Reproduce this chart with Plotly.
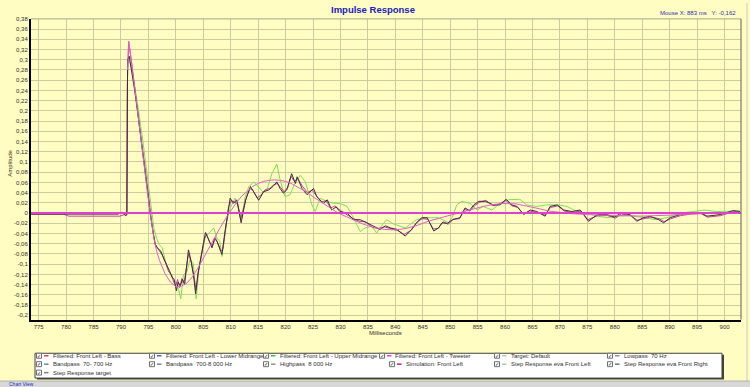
import plotly.graph_objects as go

# ---------------- data ----------------
dark_x = [773.6, 780.0, 785.0, 789.5, 790.2, 790.8, 791.1, 791.2, 791.5, 792.0, 792.5, 793.0, 793.5, 794.0,
          794.5, 795.0, 795.3, 795.7, 796.2, 796.6, 796.9, 797.3, 797.8, 798.3, 798.8, 799.3, 799.7, 800.1,
          800.4, 800.8, 801.2, 801.6, 802.0, 802.3, 802.7, 803.2, 803.6, 804.0, 804.6, 805.0, 805.4, 805.9,
          806.6, 807.0, 807.5, 808.0, 808.4, 808.9, 809.4, 809.9, 810.5, 811.1, 811.9, 812.3, 812.7, 813.6,
          814.2, 815.1, 816.0, 816.9, 817.7, 818.4, 819.0, 819.6, 820.2, 821.1, 821.8, 822.1, 823.0, 823.9,
          825.1, 825.7, 826.9, 827.6, 828.4, 829.2, 829.9, 831.2, 832.4, 833.6, 834.8, 836.0, 837.2, 838.2,
          839.1, 840.3, 841.8, 843.0, 843.8, 844.8, 845.8, 847.0, 847.9, 848.5, 849.5, 850.4, 851.8, 852.7,
          853.5, 854.3, 855.2, 856.4, 857.9, 859.1, 860.2, 861.2, 862.2, 863.4, 864.6, 865.8, 867.3, 868.2,
          869.5, 870.7, 872.2, 873.7, 875.2, 876.8, 878.6, 880.0, 881.1, 882.8, 884.0, 885.2, 886.4, 888.0,
          888.9, 890.1, 891.9, 893.7, 895.6, 896.8, 898.0, 899.2, 900.4, 901.6, 902.8]
dark_y = [-0.002, -0.002, -0.002, -0.002, 0.002, -0.005, -0.003, 0.300, 0.307, 0.275, 0.240, 0.200, 0.160, 0.120,
          0.080, 0.030, 0.000, -0.030, -0.060, -0.068, -0.072, -0.075, -0.090, -0.100, -0.112, -0.125, -0.130, -0.152,
          -0.135, -0.142, -0.130, -0.140, -0.100, -0.072, -0.090, -0.120, -0.158, -0.120, -0.085, -0.060, -0.038, -0.050,
          -0.068, -0.050, -0.055, -0.070, -0.081, -0.040, 0.000, 0.029, 0.019, 0.026, -0.019, 0.005, 0.025, 0.052,
          0.042, 0.025, 0.042, 0.045, 0.052, 0.061, 0.048, 0.039, 0.045, 0.077, 0.058, 0.071, 0.048, 0.036,
          0.048, 0.032, 0.019, 0.026, 0.006, 0.012, 0.003, 0.000, -0.013, -0.013, -0.019, -0.026, -0.032, -0.025,
          -0.029, -0.032, -0.045, -0.032, -0.020, -0.009, -0.009, -0.035, -0.029, -0.019, -0.020, -0.013, -0.009, 0.010,
          0.005, 0.016, 0.023, 0.023, 0.016, 0.016, 0.027, 0.016, 0.013, -0.003, 0.006, 0.003, -0.006, 0.013,
          0.016, 0.006, 0.003, 0.006, -0.016, -0.003, -0.003, -0.008, 0.000, -0.003, -0.016, -0.009, -0.006, -0.013,
          -0.019, -0.009, -0.003, 0.000, 0.001, -0.006, -0.005, -0.003, 0.001, 0.005, 0.003]

mag_x = [773.6, 779.5, 780.5, 789.8, 790.6, 791.0, 791.15, 791.4, 791.8, 792.3, 792.8, 793.3, 793.8, 794.3,
         794.8, 795.3, 795.8, 796.3, 796.8, 797.2, 797.7, 798.2, 798.7, 799.2, 799.6, 800.0, 800.3, 800.7,
         801.1, 801.5, 801.9, 802.3, 802.8, 803.3, 803.7, 804.1, 804.7, 805.2, 805.6, 806.2, 806.7, 807.2,
         807.7, 808.2, 808.6, 809.1, 809.6, 810.1, 810.7, 811.3, 811.8, 812.4, 812.9, 813.5, 814.0, 814.8,
         815.5, 816.3, 817.1, 817.8, 818.5, 819.1, 819.7, 820.4, 821.0, 821.6, 822.2, 823.1, 824.0, 824.8,
         825.6, 826.5, 827.4, 828.2, 829.0, 830.0, 831.0, 832.2, 833.4, 834.6, 835.8, 837.0, 838.0, 839.2,
         840.4, 841.6, 842.8, 843.9, 844.9, 845.9, 846.9, 847.8, 848.7, 849.6, 850.6, 851.7, 852.6, 853.6,
         854.4, 855.3, 856.5, 857.8, 859.0, 860.1, 861.3, 862.3, 863.3, 864.5, 865.9, 867.2, 868.3, 869.6,
         870.8, 872.3, 873.8, 875.1, 876.9, 878.7, 880.1, 881.2, 882.9, 884.1, 885.3, 886.5, 888.1, 889.0,
         890.2, 892.0, 893.8, 895.7, 896.9, 898.1, 899.3, 900.5, 901.7, 902.9]
mag_y = [-0.002, -0.002, -0.006, -0.006, -0.003, -0.004, 0.250, 0.336, 0.305, 0.260, 0.215, 0.175, 0.135, 0.095,
         0.050, 0.005, -0.035, -0.062, -0.070, -0.078, -0.085, -0.098, -0.115, -0.120, -0.135, -0.142, -0.130, -0.146,
         -0.128, -0.136, -0.108, -0.080, -0.095, -0.130, -0.150, -0.115, -0.080, -0.050, -0.042, -0.058, -0.064, -0.048,
         -0.060, -0.074, -0.070, -0.025, 0.012, 0.024, 0.022, 0.018, -0.012, 0.012, 0.032, 0.048, 0.045, 0.030,
         0.035, 0.046, 0.048, 0.055, 0.058, 0.050, 0.042, 0.050, 0.072, 0.062, 0.068, 0.052, 0.040, 0.045,
         0.035, 0.022, 0.024, 0.010, 0.014, 0.005, -0.002, -0.010, -0.016, -0.017, -0.028, -0.030, -0.027, -0.031,
         -0.034, -0.042, -0.034, -0.018, -0.011, -0.012, -0.031, -0.030, -0.017, -0.022, -0.012, -0.011, 0.007, 0.004,
         0.014, 0.021, 0.025, 0.014, 0.018, 0.025, 0.014, 0.011, -0.001, 0.004, 0.001, -0.004, 0.011, 0.014,
         0.004, 0.001, 0.004, -0.013, -0.005, -0.005, -0.010, -0.002, -0.005, -0.014, -0.011, -0.008, -0.011, -0.017,
         -0.011, -0.005, -0.002, -0.001, -0.008, -0.007, -0.005, -0.001, 0.003, 0.001]

green_x = [773.6, 790.5, 791.1, 791.2, 791.5, 792.0, 793.0, 794.0, 795.0, 795.5, 796.0, 796.5, 797.0, 797.5,
           798.0, 798.5, 799.0, 799.5, 800.0, 800.4, 800.9, 801.4, 802.0, 802.6, 803.2, 803.7, 804.2, 804.8,
           805.4, 806.0, 806.9, 807.5, 808.0, 808.4, 809.2, 809.9, 810.8, 811.4, 812.0, 812.6, 813.3, 814.2,
           815.4, 816.0, 816.6, 817.5, 818.4, 819.0, 819.9, 820.8, 821.8, 822.7, 823.6, 824.2, 824.8, 825.4,
           826.3, 827.5, 828.7, 829.9, 831.2, 832.4, 833.6, 834.5, 835.7, 836.6, 837.2, 838.4, 839.6, 841.8,
           843.9, 845.8, 847.9, 849.7, 850.5, 851.2, 852.1, 853.6, 854.9, 856.0, 857.6, 859.1, 860.6, 862.7,
           863.9, 865.8, 867.6, 869.5, 871.3, 873.1, 874.9, 876.8, 878.6, 880.7, 882.8, 885.2, 887.6, 889.4,
           891.9, 894.3, 896.4, 898.5, 900.4, 902.8]
green_y = [0.000, 0.000, 0.000, 0.290, 0.300, 0.280, 0.215, 0.140, 0.055, 0.010, -0.030, -0.050, -0.062, -0.068,
           -0.090, -0.110, -0.120, -0.130, -0.135, -0.145, -0.168, -0.120, -0.115, -0.090, -0.100, -0.168, -0.110, -0.075,
           -0.045, -0.040, -0.029, -0.049, -0.055, -0.085, -0.020, 0.010, 0.029, 0.010, -0.010, 0.030, 0.052, 0.061,
           0.048, 0.040, 0.045, 0.077, 0.096, 0.065, 0.032, 0.036, 0.061, 0.074, 0.061, 0.040, 0.016, 0.003,
           0.029, 0.023, 0.019, 0.019, 0.013, -0.010, -0.036, -0.029, -0.026, -0.039, -0.029, -0.013, -0.021, -0.029,
           -0.013, -0.009, -0.009, -0.019, -0.005, 0.016, 0.023, 0.019, 0.006, 0.013, 0.006, 0.019, 0.026, 0.027,
           0.016, 0.013, 0.016, 0.016, 0.013, 0.003, 0.000, -0.006, -0.009, -0.006, -0.005, -0.009, -0.013, -0.009,
           0.000, 0.003, 0.006, 0.003, 0.003, 0.004]

smooth_x = [791.2, 791.4, 792.0, 793.0, 794.0, 795.0, 795.5, 796.0, 796.5, 797.0, 798.0, 799.0, 800.0, 801.0,
            802.0, 803.0, 804.0, 805.0, 806.0, 807.0, 808.0, 809.0, 810.0, 811.0, 812.0, 813.0, 814.0, 815.0,
            816.0, 817.0, 818.0, 819.0, 820.0, 821.0, 822.0, 823.0, 824.0, 825.0, 826.0, 827.0, 828.0, 829.0,
            830.0, 832.0, 834.0, 836.0, 838.0, 840.0, 842.0, 844.0, 846.0, 848.0, 850.0, 852.0, 854.0, 856.0,
            858.0, 860.0, 862.0, 864.0, 866.0, 868.0, 870.0, 872.0, 875.0, 880.0, 885.0, 890.0, 895.0, 900.0, 903.0]
smooth_y = [0.280, 0.336, 0.290, 0.200, 0.112, 0.025, -0.012, -0.050, -0.075, -0.092, -0.118, -0.135, -0.144, -0.143,
            -0.137, -0.125, -0.108, -0.088, -0.068, -0.048, -0.030, -0.012, 0.005, 0.020, 0.033, 0.043, 0.052, 0.058,
            0.062, 0.064, 0.065, 0.064, 0.062, 0.058, 0.052, 0.046, 0.040, 0.032, 0.025, 0.017, 0.010, 0.004,
            -0.002, -0.012, -0.021, -0.028, -0.032, -0.033, -0.030, -0.024, -0.016, -0.010, -0.004, 0.002, 0.008, 0.013,
            0.017, 0.019, 0.018, 0.014, 0.009, 0.004, 0.001, -0.001, -0.003, -0.005, -0.006, -0.004, -0.001, 0.000, 0.001]

zero_x = [773.0, 904.0]
zero_y = [0.0, 0.0]

x_ticks = [775, 780, 785, 790, 795, 800, 805, 810, 815, 820, 825, 830, 835, 840, 845, 850, 855, 860, 865,
           870, 875, 880, 885, 890, 895, 900]
y_ticks = [0.38, 0.36, 0.34, 0.32, 0.30, 0.28, 0.26, 0.24, 0.22, 0.20, 0.18, 0.16, 0.14, 0.12, 0.10, 0.08,
           0.06, 0.04, 0.02, 0.0, -0.02, -0.04, -0.06, -0.08, -0.10, -0.12, -0.14, -0.16, -0.18, -0.20]
y_tick_labels = ["0,38", "0,36", "0,34", "0,32", "0,3", "0,28", "0,26", "0,24", "0,22", "0,2", "0,18", "0,16",
                 "0,14", "0,12", "0,1", "0,08", "0,06", "0,04", "0,02", "0", "-0,02", "-0,04", "-0,06", "-0,08",
                 "-0,1", "-0,12", "-0,14", "-0,16", "-0,18", "-0,2"]

legend_names = ["Filtered: Front Left - Bass", "Filtered: Front Left - Lower Midrange",
                "Filtered: Front Left - Upper Midrange", "Filtered: Front Left - Tweeter", "Target: Default",
                "Lowpass  70 Hz",
                "Bandpass  70- 700 Hz", "Bandpass  700-8 000 Hz", "Highpass  8 000 Hz", "Simulation: Front Left",
                "Step Response eva Front Left", "Step Response eva Front Right",
                "Step Response target"]
legend_colors = ["#E04060", "#6060C0", "#40C040", "#E040E0", "#B8C8B8", "#9090A0",
                 "#6090A0", "#8080A0", "#9090A0", "#C02080", "#A8D0A8", "#707070",
                 "#808080"]

# ---------------- style ----------------
W, H = 750, 387
BG = "#FFFDC2"
GRID = "#CFCBA0"
FONT = "Liberation Sans"
L, R, T, B = 31, 741, 16, 319


def X(px):
    return px / W


def Y(py):
    return 1 - py / H


fig = go.Figure()
fig.add_trace(go.Scatter(x=green_x, y=green_y, mode="lines", line=dict(color="#7CE05A", width=1)))
fig.add_trace(go.Scatter(x=mag_x, y=mag_y, mode="lines", line=dict(color="#C83C9C", width=1)))
fig.add_trace(go.Scatter(x=dark_x, y=dark_y, mode="lines", line=dict(color="#3C2C3C", width=1)))
fig.add_trace(go.Scatter(x=smooth_x, y=smooth_y, mode="lines", line=dict(color="#E060C8", width=1)))
fig.add_trace(go.Scatter(x=zero_x, y=zero_y, mode="lines", line=dict(color="#E040D0", width=2)))

fig.update_layout(
    width=W, height=H, margin=dict(l=0, r=0, t=0, b=0),
    paper_bgcolor=BG, plot_bgcolor=BG, showlegend=False,
    font=dict(family=FONT, size=6, color="#303030"),
    xaxis=dict(domain=[X(L), X(R)], range=[773.6, 903.0], tickmode="array", tickvals=x_ticks,
               ticktext=[str(v) for v in x_ticks], showgrid=True, gridcolor=GRID, gridwidth=1,
               zeroline=False, showline=True, linecolor="#000000", linewidth=2, ticks="",
               tickfont=dict(size=6, color="#303030")),
    yaxis=dict(domain=[Y(B), Y(T)], range=[-0.2083, 0.38], tickmode="array", tickvals=y_ticks,
               ticktext=y_tick_labels, showgrid=True, gridcolor=GRID, gridwidth=1,
               zeroline=False, showline=True, linecolor="#000000", linewidth=2, ticks="",
               tickfont=dict(size=6, color="#303030")),
)

shapes = []
ann = []
# top and right border of plot
shapes.append(dict(type="line", xref="paper", yref="paper", x0=X(L), x1=X(R), y0=Y(T), y1=Y(T),
                   line=dict(color="#A8A890", width=1)))
shapes.append(dict(type="line", xref="paper", yref="paper", x0=X(R), x1=X(R), y0=Y(T), y1=Y(B),
                   line=dict(color="#606050", width=1)))
# window right edge and bottom strip
shapes.append(dict(type="line", xref="paper", yref="paper", x0=X(747), x1=X(747), y0=Y(0), y1=Y(381),
                   line=dict(color="#C8C8C8", width=1)))
shapes.append(dict(type="rect", xref="paper", yref="paper", x0=X(0), x1=X(750), y0=Y(381), y1=Y(387),
                   fillcolor="#D8D8D8", line=dict(width=0)))
shapes.append(dict(type="line", xref="paper", yref="paper", x0=X(0), x1=X(750), y0=Y(381), y1=Y(381),
                   line=dict(color="#B0B0B0", width=1)))
# legend box (with shadow)
shapes.append(dict(type="rect", xref="paper", yref="paper", x0=X(37), x1=X(724), y0=Y(379.5), y1=Y(354.5),
                   fillcolor="#404040", line=dict(width=0)))
shapes.append(dict(type="rect", xref="paper", yref="paper", x0=X(35), x1=X(722), y0=Y(378), y1=Y(353),
                   fillcolor="#FFFFFF", line=dict(color="#404040", width=1)))

# title and texts
ann.append(dict(text="<b>Impulse Response</b>", x=X(373), y=Y(7), xref="paper", yref="paper",
                showarrow=False, font=dict(family=FONT, size=9.5, color="#2020C0"),
                xanchor="center", yanchor="middle"))
ann.append(dict(text="Mouse X: 883 ms   Y: -0,162", x=X(738), y=Y(10), xref="paper", yref="paper",
                showarrow=False, font=dict(family=FONT, size=6, color="#3030B0"),
                xanchor="right", yanchor="middle"))
ann.append(dict(text="Amplitude", x=X(10), y=Y(162), xref="paper", yref="paper", textangle=-90,
                showarrow=False, font=dict(family=FONT, size=6, color="#303030"),
                xanchor="center", yanchor="middle"))
ann.append(dict(text="Milliseconds", x=X(385), y=Y(333), xref="paper", yref="paper",
                showarrow=False, font=dict(family=FONT, size=6, color="#303030"),
                xanchor="center", yanchor="middle"))
ann.append(dict(text="Chart View", x=X(8), y=Y(384.3), xref="paper", yref="paper",
                showarrow=False, font=dict(family=FONT, size=5, color="#2030C0"),
                xanchor="left", yanchor="middle", borderpad=0))

# legend entries
box_x = [39, 152, 266, 382, 497, 610,
         39, 152, 266, 392, 497, 610,
         39]
row_y = [355.5, 355.5, 355.5, 355.5, 355.5, 355.5,
         364, 364, 364, 364, 364, 364,
         372.5]
for name, col, bx, ry in zip(legend_names, legend_colors, box_x, row_y):
    shapes.append(dict(type="rect", xref="paper", yref="paper", x0=X(bx - 2.5), x1=X(bx + 2.5),
                       y0=Y(ry + 2.5), y1=Y(ry - 2.5), fillcolor="#FFFFFF",
                       line=dict(color="#707070", width=1)))
    ann.append(dict(text="✓", x=X(bx), y=Y(ry), xref="paper", yref="paper", showarrow=False,
                    font=dict(family="DejaVu Sans", size=5, color="#000000"),
                    xanchor="center", yanchor="middle"))
    shapes.append(dict(type="line", xref="paper", yref="paper", x0=X(bx + 5), x1=X(bx + 9.5),
                       y0=Y(ry), y1=Y(ry), line=dict(color=col, width=1.5)))
    ann.append(dict(text=name, x=X(bx + 11.5), y=Y(ry), xref="paper", yref="paper", showarrow=False,
                    font=dict(family=FONT, size=6, color="#303030"),
                    xanchor="left", yanchor="middle"))

fig.update_layout(shapes=shapes, annotations=ann)
fig.write_html("out.html", config={"displayModeBar": False},
               post_script="document.body.style.margin='0';document.body.style.overflow='hidden';")
